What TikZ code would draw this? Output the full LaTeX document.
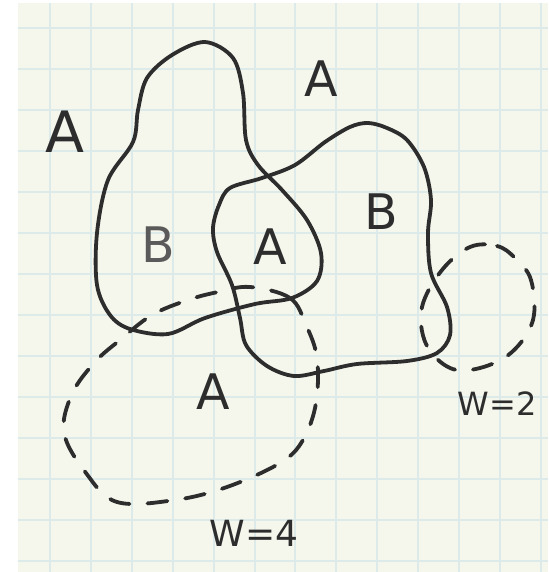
\documentclass[tikz,border=0pt]{standalone}
\usepackage{fontspec}
\setsansfont{DejaVu Sans}
\usetikzlibrary{backgrounds}
\definecolor{paper}{RGB}{245,246,236}
\definecolor{gridc}{RGB}{220,235,234}
\definecolor{pencil}{RGB}{45,45,45}
\definecolor{pencillight}{RGB}{90,90,90}
\tikzset{
  solidline/.style={draw=pencil, line width=3.8pt, line join=round, line cap=round},
  dashline/.style={draw=pencil, line width=3.8pt, line cap=round, dash pattern=on 20pt off 18pt},
  lbl/.style={text=pencil, inner sep=0pt, font=\sffamily\fontsize{49}{49}\selectfont},
  biglbl/.style={lbl, font=\sffamily\fontsize{57}{57}\selectfont},
  wlbl/.style={text=pencil, inner sep=0pt, font=\sffamily\fontsize{32}{32}\selectfont}
}
\begin{document}
\begin{tikzpicture}[x=1pt,y=-1pt]
\useasboundingbox (0,0) rectangle (548,572);
\fill[white] (0,0) rectangle (548,572);
\fill[paper] (18,3) rectangle (548,572);
% grid
\foreach \gx in {50,91,132,173,214,255,295,336,377,418,459,500,541}
  \draw[gridc, line width=2pt] (\gx,3) -- (\gx,572);
\foreach \gy in {28,69,110,151,192,233,274,315,356,397,438,479,520,561}
  \draw[gridc, line width=2pt] (18,\gy) -- (548,\gy);
% left blob
\draw[solidline] plot[smooth cycle, tension=0.55] coordinates {
  (205,42) (233,58) (243,93) (246,140) (258,165) (282,190) (307,220) (321,253)
  (317,281) (292,298) (255,304) (205,318) (168,334) (130,329) (110,315) (97,285)
  (97,233) (108,180) (133,142) (138,110) (147,78) (172,55)};
% right blob
\draw[solidline] plot[smooth cycle, tension=0.55] coordinates {
  (230,188) (262,178) (295,165) (325,142) (350,127) (368,123) (387,128) (407,140)
  (424,167) (431,200) (428,233) (431,273) (447,307) (450,335) (437,353) (407,361)
  (357,364) (324,371) (294,376) (267,366) (246,345) (240,318) (232,285) (217,252)
  (213,228) (219,205)};
% W=4 dashed circle
\draw[dashline] plot[smooth cycle, tension=0.6] coordinates {
  (250,287) (290,298) (306,325) (317,358) (316,403) (303,440) (280,463) (227,487)
  (175,500) (117,502) (86,473) (64,433) (72,394) (95,362) (120,340) (152,315)
  (188,300) (218,292)};
% W=2 dashed circle
\draw[dashline] plot[smooth cycle, tension=0.6] coordinates {
  (470,247) (497,246) (515,258) (531,280) (533,320) (512,352) (480,368) (450,368)
  (426,344) (422,307) (442,270)};
% labels
\node[biglbl] (a1) at (65,132) {A};
\node[lbl] (a2) at (321,79) {A};
\node[lbl, text=pencillight] (b1) at (158,245) {B};
\node[lbl] (a3) at (270,247) {A};
\node[lbl] (b2) at (381,212) {B};
\node[lbl] (a4) at (213,392) {A};
\node[wlbl] (w2) at (497,404) {W=2};
\node[wlbl, font=\sffamily\fontsize{36}{36}\selectfont] (w4) at (254,533) {W=4};
\end{tikzpicture}
\end{document}
